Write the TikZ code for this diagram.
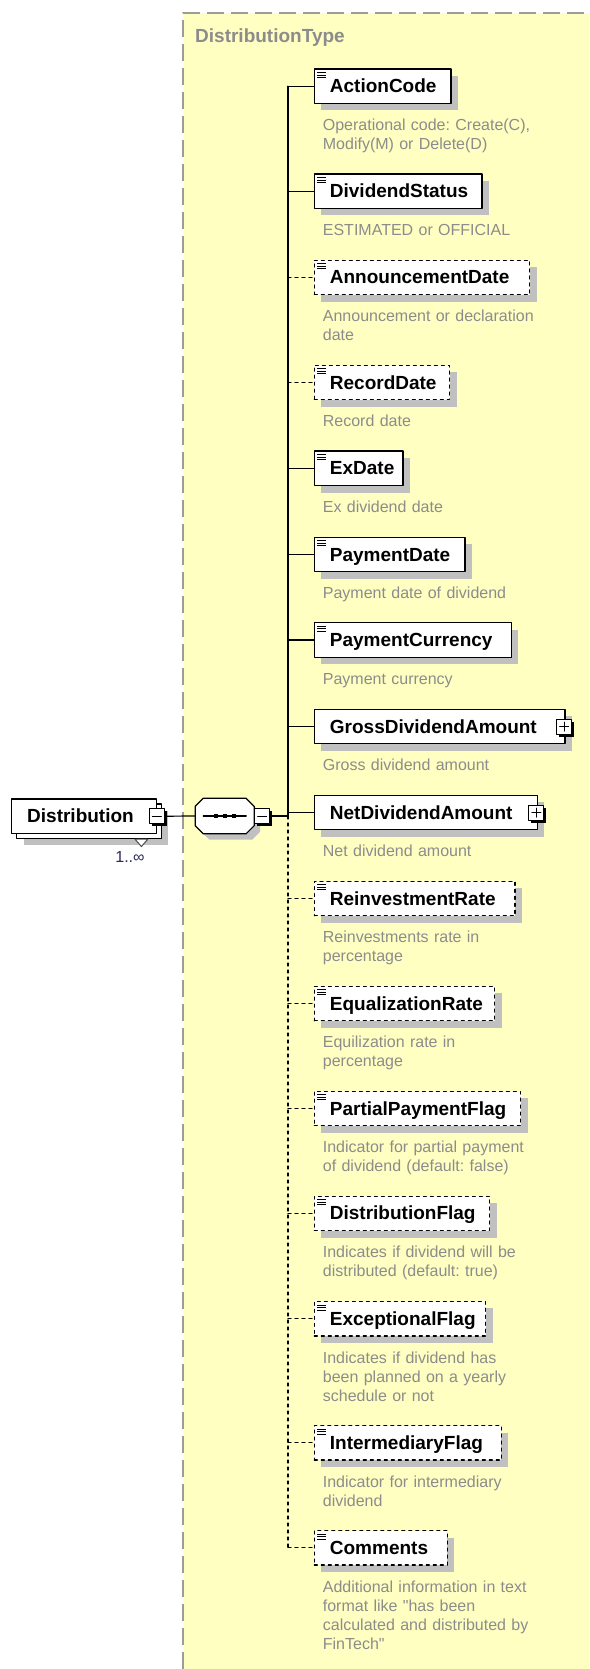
\documentclass[tikz,border=0pt]{standalone}
\usepackage{fontspec}
\setmainfont{Liberation Sans}
\usetikzlibrary{arrows.meta,calc,positioning,shadows}
\definecolor{xsdPaper}{HTML}{FFFFC2}
\definecolor{xsdFrame}{HTML}{9C9C9C}
\definecolor{xsdShade}{HTML}{C0C0C0}
\definecolor{xsdNote}{HTML}{8C8C8C}
\definecolor{xsdInk}{HTML}{000000}
\definecolor{xsdCount}{HTML}{2A2A55}
\hyphenpenalty=10000
\exhyphenpenalty=10000
\frenchspacing

\begin{document}
\begin{tikzpicture}[x=1pt,y=-1pt,>=Latex,line cap=round,line join=round]
\useasboundingbox (0,0) rectangle (589,1669);
\path[fill=white] (0,0) rectangle (589,1669);
\path[fill=xsdPaper] (183,13) rectangle (589,1669);
\draw[xsdFrame,line width=1.5pt,line cap=butt,dash pattern=on 17pt off 7pt] (183,1669) -- (183,13) -- (589,13);
\tikzset{box/.style={draw=xsdInk,fill=white,line width=1.2pt,inner xsep=15.6pt,inner ysep=0pt,minimum height=34.5pt,text width=#1,align=left,text height=13.5pt,text depth=0.5pt,font=\fontsize{19}{22}\selectfont\bfseries},
  shade/.style={drop shadow={shadow xshift=7pt,shadow yshift=-7pt,fill=xsdShade,opacity=1}},
  elem/.style={box=#1,shade,anchor=west},
  leaf/.style={path picture={\foreach \k in {3.5,6,8.5} \draw[solid,line width=0.8pt,line cap=butt] ([shift={(3pt,-\k pt)}]path picture bounding box.north west) -- ++(8.5pt,0pt);}},
  opt/.style={dash pattern=on 3pt off 4pt},
  link/.style={draw=xsdInk,line width=1.2pt},
  title/.style={anchor=base west,inner sep=0pt,text=xsdNote,font=\fontsize{19}{22}\selectfont\bfseries},
  desc/.style={anchor=base west,inner sep=0pt,text width=240pt,align=left,text=xsdNote,font=\fontsize{16}{19}\selectfont},
  count/.style={inner sep=0pt,text=xsdCount,font=\fontsize{16}{19}\selectfont},
  pmbox/.style={draw=xsdInk,fill=white,line width=1pt,minimum size=15pt,inner sep=0pt,drop shadow={shadow xshift=2.5pt,shadow yshift=-2.5pt,fill=xsdInk,opacity=1}},
  minus/.style={pmbox,path picture={\draw[line width=1pt] ([xshift=3pt]path picture bounding box.west) -- ([xshift=-3pt]path picture bounding box.east);}},
  plus/.style={pmbox,path picture={\draw[line width=1pt] ([xshift=3pt]path picture bounding box.west) -- ([xshift=-3pt]path picture bounding box.east) ([yshift=3pt]path picture bounding box.south) -- ([yshift=-3pt]path picture bounding box.north);}},
  seqbox/.style={minimum width=58.5pt,minimum height=35pt,inner sep=0pt},
  seqline/.style={draw=xsdInk,fill=white,line width=1.2pt,line join=miter,drop shadow={shadow xshift=6pt,shadow yshift=-6pt,fill=xsdShade,opacity=1}}}
\node[title] (ttl) at (195,42.7) {DistributionType};
% root element and sequence
\node[box=113.5pt,shade,anchor=west] (distback) at (16,821.2) {};
\node[box=113.5pt,anchor=west] (dist) at (11,816.2) {Distribution};
\node[minus] (dminus) at (dist.east) {};
\draw[xsdInk!70,fill=white,line width=1pt] ([shift={(-27,0)}]distback.south east) -- ++(13,0) -- ++(-6.5,7.5) -- cycle;
\node[count] (mult) at (130,857) {1..∞};
\node[seqbox] (seq) at (224.7,816) {};
\draw[seqline] ([xshift=8pt]seq.north west) -- ([xshift=-8pt]seq.north east) -- ([yshift=-8pt]seq.north east) -- ([yshift=8pt]seq.south east) -- ([xshift=-8pt]seq.south east) -- ([xshift=8pt]seq.south west) -- ([yshift=8pt]seq.south west) -- ([yshift=-8pt]seq.north west) -- cycle;
\draw[link] ([xshift=-21.5pt]seq.center) -- ([xshift=21.5pt]seq.center);
\foreach \dx in {-9,0,9} \fill[xsdInk] ([shift={(\dx-2,-2)}]seq.center) rectangle ++(4,4);
\node[minus,anchor=west] (sminus) at (seq.east) {};
\coordinate (trunk) at (288,816);
% child elements
\node[elem=105.4pt,leaf] (ac) at (313.7,86.2) {ActionCode};
\node[desc] (acd) at ([shift={(9,26.5)}]ac.south west) {Operational code: Create(C),\\Modify(M) or Delete(D)};
\node[elem=136.4pt,leaf] (ds) at (313.7,191.2) {DividendStatus};
\node[desc] (dsd) at ([shift={(9,26.5)}]ds.south west) {ESTIMATED or OFFICIAL};
\node[elem=184.1pt,leaf,opt] (ad) at (313.7,277.4) {AnnouncementDate};
\node[desc] (add) at ([shift={(9,26.5)}]ad.south west) {Announcement or declaration\\date};
\node[elem=104.1pt,leaf,opt] (rd) at (313.7,382.5) {RecordDate};
\node[desc] (rdd) at ([shift={(9,26.5)}]rd.south west) {Record date};
\node[elem=57.4pt,leaf] (ex) at (313.7,468.3) {ExDate};
\node[desc] (exd) at ([shift={(9,26.5)}]ex.south west) {Ex dividend date};
\node[elem=119.4pt,leaf] (pd) at (313.7,554.5) {PaymentDate};
\node[desc] (pdd) at ([shift={(9,26.5)}]pd.south west) {Payment date of dividend};
\node[elem=165.8pt,leaf] (pc) at (313.7,640) {PaymentCurrency};
\node[desc] (pcd) at ([shift={(9,26.5)}]pc.south west) {Payment currency};
\node[elem=219.4pt] (gda) at (313.7,726.6) {GrossDividendAmount};
\node[plus] (gdaplus) at ([xshift=-1.5pt]gda.east) {};
\node[desc] (gdad) at ([shift={(9,26.5)}]gda.south west) {Gross dividend amount};
\node[elem=191.8pt] (nda) at (313.7,812.6) {NetDividendAmount};
\node[plus] (ndaplus) at ([xshift=-1.5pt]nda.east) {};
\node[desc] (ndad) at ([shift={(9,26.5)}]nda.south west) {Net dividend amount};
\node[elem=169.4pt,leaf,opt] (rr) at (313.7,898.5) {ReinvestmentRate};
\node[desc] (rrd) at ([shift={(9,26.5)}]rr.south west) {Reinvestments rate in\\percentage};
\node[elem=149.1pt,leaf,opt] (er) at (313.7,1003.5) {EqualizationRate};
\node[desc] (erd) at ([shift={(9,26.5)}]er.south west) {Equilization rate in\\percentage};
\node[elem=175.1pt,leaf,opt] (ppf) at (313.7,1108.5) {PartialPaymentFlag};
\node[desc] (ppfd) at ([shift={(9,26.5)}]ppf.south west) {Indicator for partial payment\\of dividend (default: false)};
\node[elem=144.1pt,leaf,opt] (df) at (313.7,1213.4) {DistributionFlag};
\node[desc] (dfd) at ([shift={(9,26.5)}]df.south west) {Indicates if dividend will be\\distributed (default: true)};
\node[elem=140.1pt,leaf,opt] (ef) at (313.7,1318.7) {ExceptionalFlag};
\node[desc] (efd) at ([shift={(9,26.5)}]ef.south west) {Indicates if dividend has\\been planned on a yearly\\schedule or not};
\node[elem=155.8pt,leaf,opt] (imf) at (313.7,1442.8) {IntermediaryFlag};
\node[desc] (imfd) at ([shift={(9,26.5)}]imf.south west) {Indicator for intermediary\\dividend};
\node[elem=101.8pt,leaf,opt] (cm) at (313.7,1547.8) {Comments};
\node[desc] (cmd) at ([shift={(9,26.5)}]cm.south west) {Additional information in text\\format like \textquotedbl has been\\calculated and distributed by\\FinTech\textquotedbl};
% connectors
\draw[link] (dminus.east) -- (seq.west);
\draw[link] (sminus.east) -- (trunk);
\draw[link] (trunk |- ac.west) -- (trunk);
\draw[link,opt] (trunk) -- (trunk |- cm.west);
\foreach \n in {ac,ds,ex,pd,pc,gda,nda} \draw[link] (trunk |- \n.west) -- (\n.west);
\foreach \n in {ad,rd,rr,er,ppf,df,ef,imf,cm} \draw[link,opt] (trunk |- \n.west) -- (\n.west);
\end{tikzpicture}
\end{document}
